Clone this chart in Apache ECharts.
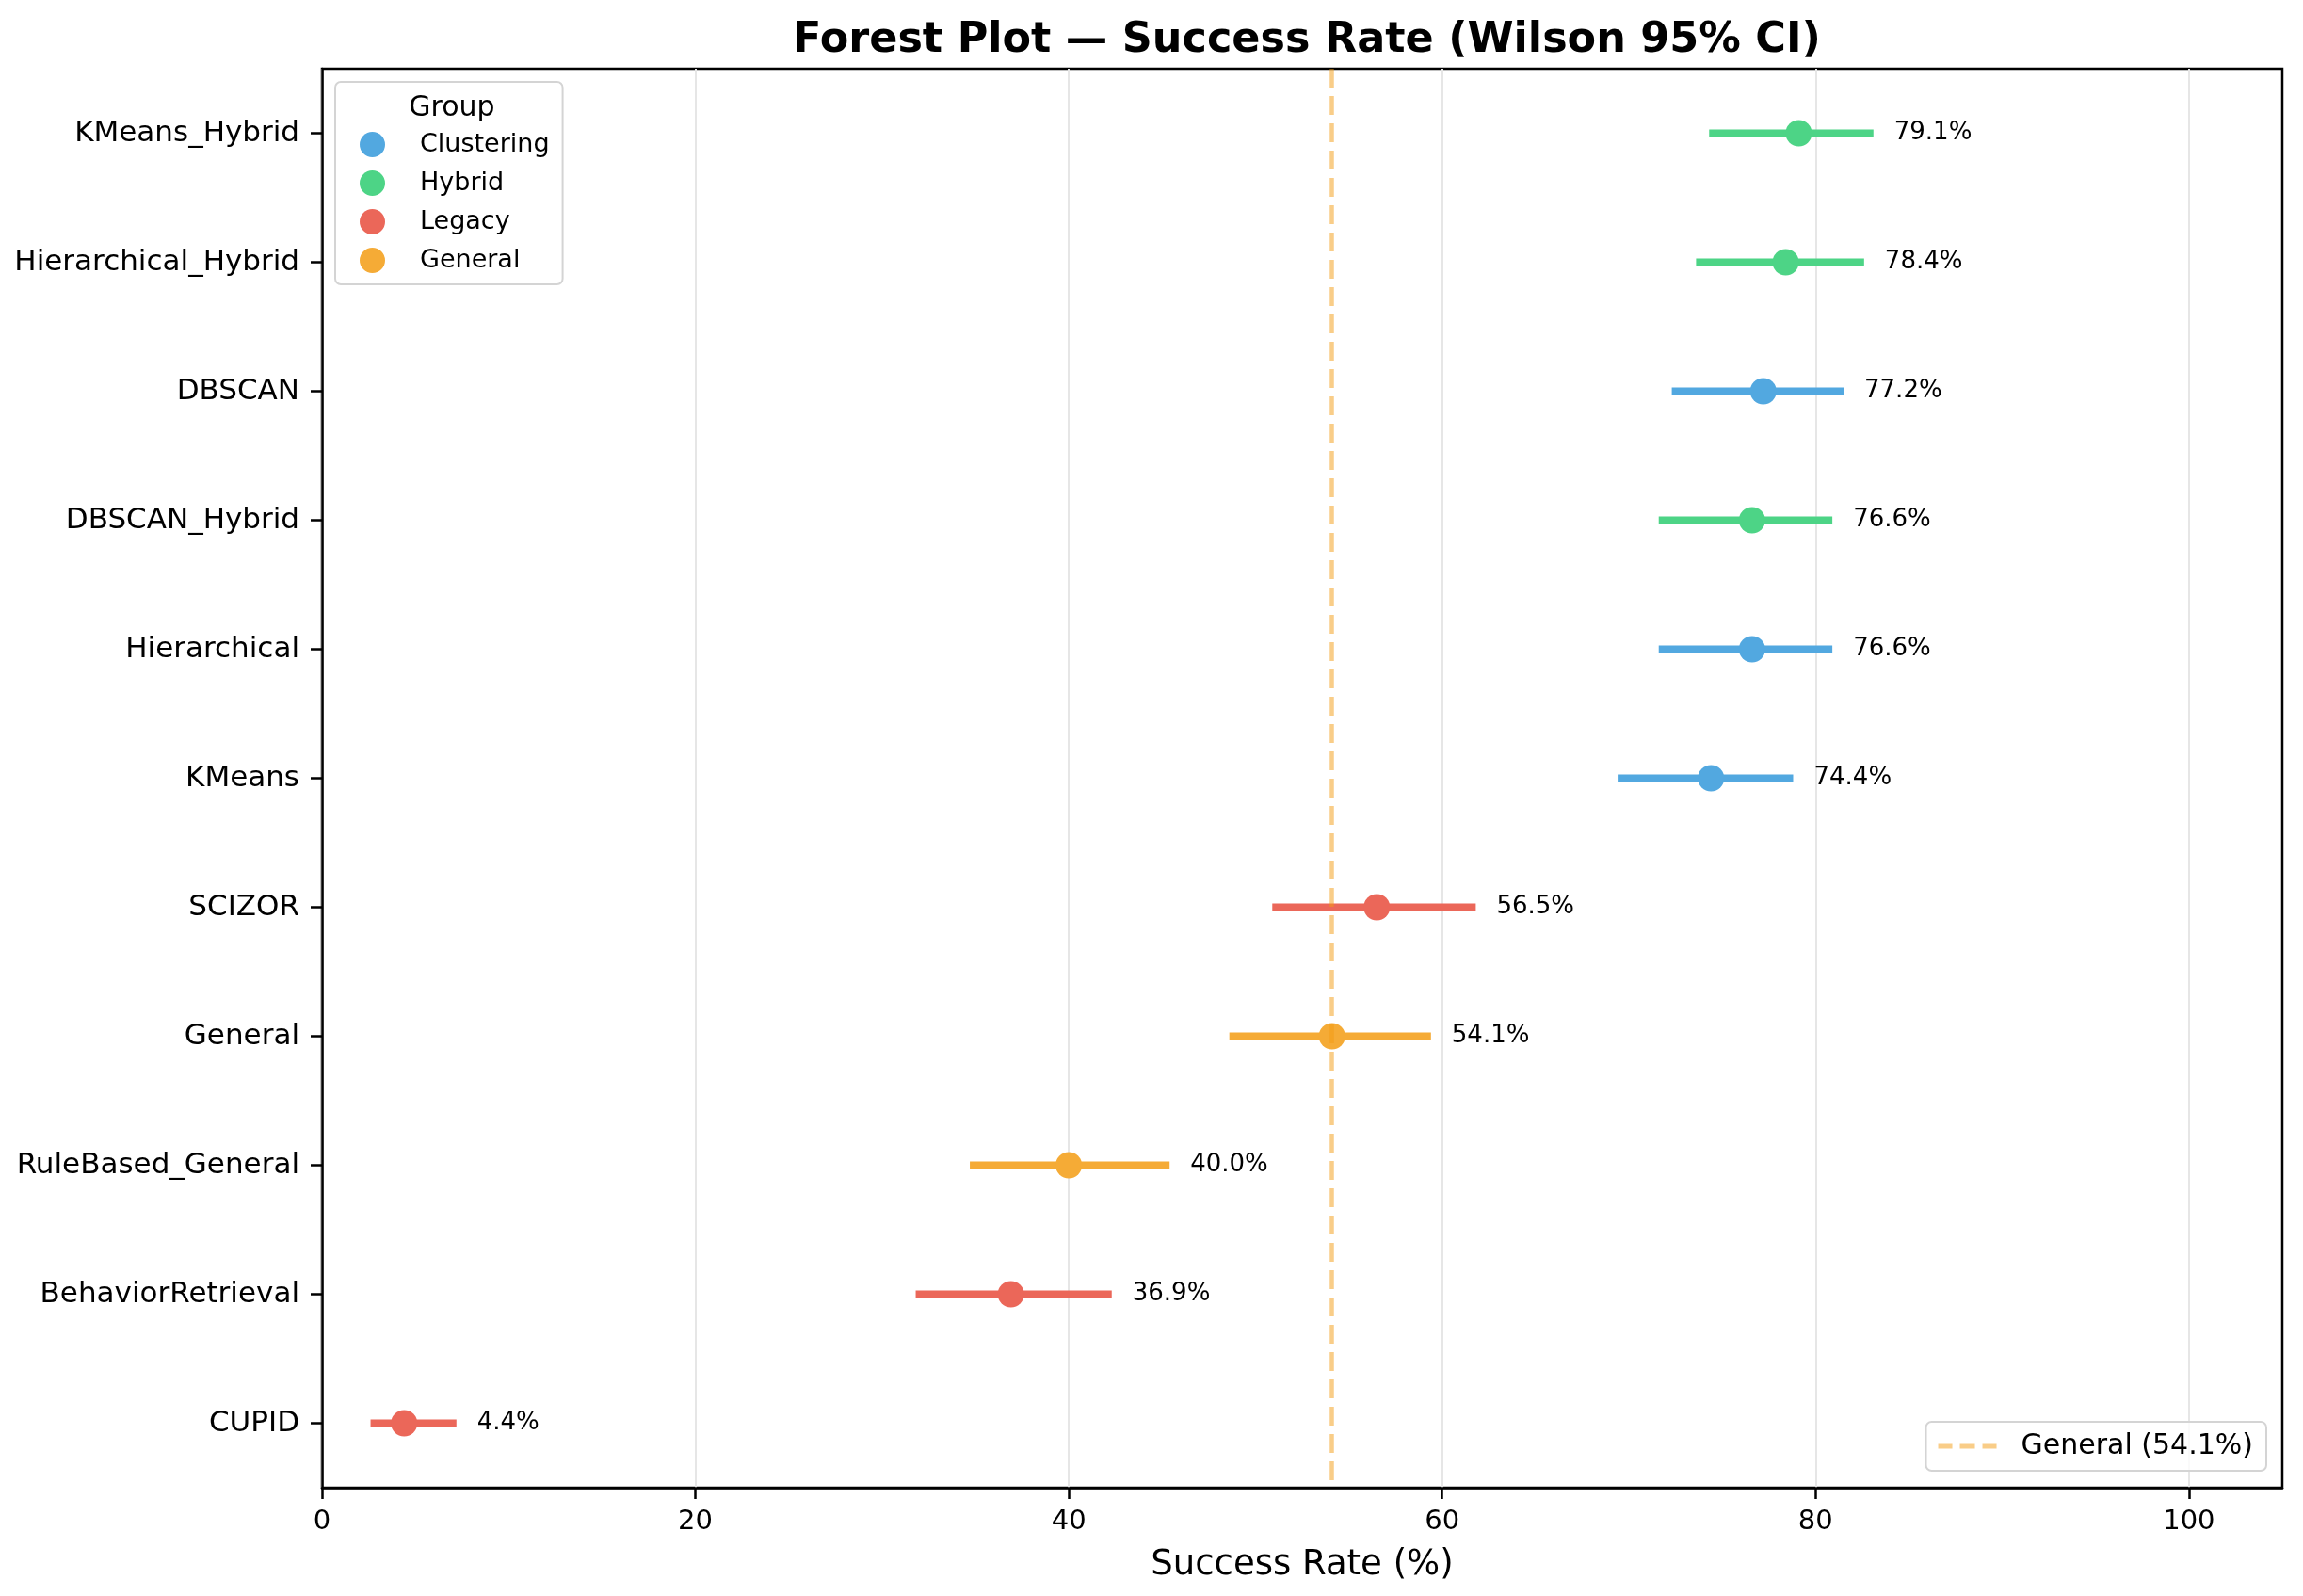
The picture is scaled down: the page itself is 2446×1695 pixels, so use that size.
<!DOCTYPE html>
<html>
<head>
<meta charset="utf-8">
<script src="https://cdn.jsdelivr.net/npm/echarts@6/dist/echarts.min.js"></script>
<style>
html,body{margin:0;padding:0;background:#fff;}
#chart{width:2446px;height:1695px;}
</style>
</head>
<body>
<div id="chart"></div>
<script>
// ---- data ----
const methods = ['KMeans_Hybrid','Hierarchical_Hybrid','DBSCAN','DBSCAN_Hybrid','Hierarchical','KMeans','SCIZOR','General','RuleBased_General','BehaviorRetrieval','CUPID'];
const groupOf = ['Hybrid','Hybrid','Clustering','Hybrid','Clustering','Clustering','Legacy','General','General','Legacy','Legacy'];
const successRate = [79.1,78.4,77.2,76.6,76.6,74.4,56.5,54.1,40.0,36.9,4.4];
const ciLower = [74.3,73.6,72.3,71.6,71.6,69.4,50.9,48.6,34.7,31.8,2.6];
const ciUpper = [83.1,82.6,81.5,80.9,80.9,78.8,61.8,59.4,45.4,42.3,7.2];
const groupNames = ['Clustering','Hybrid','Legacy','General'];
const referenceValue = 54.1;
const referenceName = 'General (54.1%)';
const xTicks = [0,20,40,60,80,100];

const groupColors = {Clustering:'#52A8E0', Hybrid:'#4DD486', Legacy:'#EB6759', General:'#F5AB36'};
const refColor = 'rgba(243,156,18,0.5)';
const FONT = 'DejaVu Sans';

const chart = echarts.init(document.getElementById('chart'), null, {renderer:'canvas'});

const ciData = methods.map((m,i)=>[ciLower[i], i, ciUpper[i], successRate[i], groupOf[i]]);

const series = [];
series.push({
  type:'custom',
  name:'ci',
  z:2,
  silent:true,
  data:ciData,
  encode:{x:[0,2], y:1},
  renderItem:function(params, api){
    const lo = api.coord([api.value(0), api.value(1)]);
    const hi = api.coord([api.value(2), api.value(1)]);
    const g = ciData[params.dataIndex][4];
    const rate = api.value(3);
    return {
      type:'group',
      children:[
        {type:'line', shape:{x1:lo[0], y1:lo[1], x2:hi[0], y2:hi[1]},
         style:{stroke:groupColors[g], lineWidth:8}},
        {type:'text', x:hi[0]+22, y:hi[1],
         style:{text:rate.toFixed(1)+'%', fill:'#000', font:'26px "'+FONT+'"', textAlign:'left', textVerticalAlign:'middle'}}
      ]
    };
  }
});
groupNames.forEach(g=>{
  series.push({
    type:'scatter',
    name:g,
    z:3,
    symbol:'circle',
    symbolSize:28,
    itemStyle:{color:groupColors[g], opacity:1},
    data:methods.map((m,i)=>groupOf[i]===g ? [successRate[i], m] : null).filter(d=>d)
  });
});
series.push({
  type:'line',
  name:referenceName,
  data:[],
  symbol:'none',
  z:4,
  lineStyle:{color:refColor, width:4.5, type:[20,9]},
  itemStyle:{color:refColor},
  markLine:{
    silent:true,
    symbol:'none',
    label:{show:false},
    lineStyle:{color:refColor, width:4.5, type:[20,9]},
    data:[{xAxis:referenceValue}]
  }
});

const option = {
  animation:false,
  backgroundColor:'#fff',
  title:[
    {text:'Forest Plot — Success Rate (Wilson 95% CI)', left:1383, top:16, textAlign:'center',
     textStyle:{fontFamily:FONT, fontWeight:'bold', fontSize:44.5, color:'#000'}},
    {text:'Group', left:475, top:95, textAlign:'center',
     textStyle:{fontFamily:FONT, fontWeight:'normal', fontSize:30, color:'#000'}, z:10}
  ],
  grid:{left:342, right:22, top:73, bottom:115, show:true, borderColor:'#000', borderWidth:2.5, backgroundColor:'transparent'},
  xAxis:{
    type:'value', min:0, max:105, interval:20,
    name:'Success Rate (%)', nameLocation:'middle', nameGap:64,
    nameTextStyle:{fontFamily:FONT, fontSize:37, color:'#000'},
    axisLine:{show:true, lineStyle:{color:'#000', width:2.5}},
    axisTick:{show:true, length:12, lineStyle:{color:'#000', width:2.5}, customValues:xTicks},
    axisLabel:{fontFamily:FONT, fontSize:29, color:'#000', margin:22, customValues:xTicks},
    splitLine:{show:true, lineStyle:{color:'#e6e6e6', width:2}}
  },
  yAxis:{
    type:'category', data:methods, inverse:true,
    axisLine:{show:true, lineStyle:{color:'#000', width:2.5}},
    axisTick:{show:true, alignWithLabel:true, length:12, lineStyle:{color:'#000', width:2.5}},
    axisLabel:{fontFamily:FONT, fontSize:31, color:'#000', margin:24},
    splitLine:{show:false}
  },
  legend:[
    {
      data:groupNames, orient:'vertical', left:356, top:87,
      padding:[53,14,12,26],
      itemWidth:27, itemHeight:27, itemGap:14, icon:'circle',
      selectedMode:false,
      backgroundColor:'rgba(255,255,255,0.8)', borderColor:'#d4d4d4', borderWidth:2, borderRadius:6,
      textStyle:{fontFamily:FONT, fontSize:27, color:'#000', padding:[0,0,0,32], lineHeight:27}
    },
    {
      data:[{name:referenceName, icon:'path://M0,0h15v5h-15z M23,0h16v5h-16z M47,0h15v5h-15z'}],
      orient:'horizontal', right:39, bottom:133,
      padding:[11,14,11,13],
      itemWidth:62, itemHeight:5, selectedMode:false,
      itemStyle:{color:refColor, borderWidth:0},
      backgroundColor:'rgba(255,255,255,0.8)', borderColor:'#d4d4d4', borderWidth:2, borderRadius:6,
      textStyle:{fontFamily:FONT, fontSize:30, color:'#000', padding:[0,0,0,21], lineHeight:30}
    }
  ],
  series:series
};
chart.setOption(option);
</script>
</body>
</html>
